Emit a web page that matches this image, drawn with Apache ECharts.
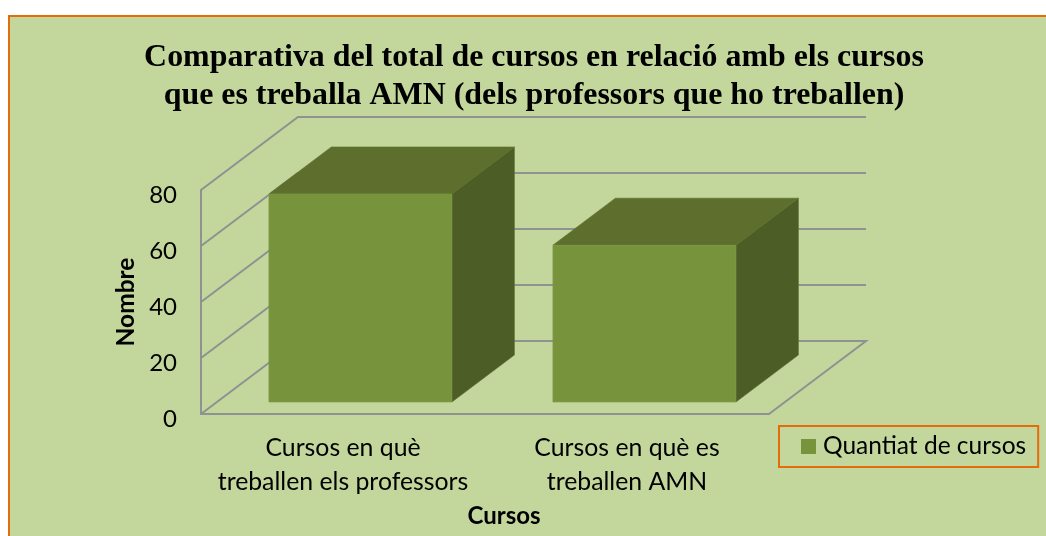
<!DOCTYPE html>
<html>
<head>
<meta charset="utf-8">
<style>html,body{margin:0;padding:0;background:#fff}#c{width:1046px;height:536px}</style>
<script src="https://cdn.jsdelivr.net/npm/echarts@6/dist/echarts.min.js"></script>
</head>
<body>
<div id="c"></div>
<script>
const categories = ['Cursos en què\ntreballen els professors', 'Cursos en què es\ntreballen AMN'];
const quantities = [74.3, 56];
const gridTicks = [0, 20, 40, 60, 80];
const seriesName = 'Quantiat de cursos';
const titleText = 'Comparativa del total de cursos en relació amb els cursos\nque es treballa AMN (dels professors que ho treballen)';

const FONT = 'Lato';
const GREY = '#8f9291';
const ORANGE = '#E46C0A';
const DEPTH_X = 97 / 284, DEPTH_Y = 73 / 284;   // wall depth relative to the category band
const BAR_W = 183 / 284, BAR_D0 = 0.164, BAR_D1 = 0.808, BAR_SHIFT = 1.5 / 284; // bar width, depth extent, nudge

function wallItem(params, api) {
  const v = api.value(0);
  const band = api.size([1, 0])[0];
  const p = api.coord([0, v]);
  const x0 = p[0] - band / 2, y = p[1];
  const dx = band * DEPTH_X, dy = band * DEPTH_Y;
  const xEnd = x0 + band * categories.length;
  const lineStyle = { stroke: GREY, lineWidth: 2, fill: null };
  const pts = [[x0, y], [x0 + dx, y - dy], [xEnd + dx, y - dy]];
  if (v === 0) pts.push([xEnd, y]);
  return { type: 'polyline', shape: { points: pts }, style: lineStyle, silent: true };
}

function barItem(params, api) {
  const idx = api.value(0), val = api.value(1);
  const band = api.size([1, 0])[0];
  const top = api.coord([idx, val]), base = api.coord([idx, 0]);
  const dx = band * DEPTH_X, dy = band * DEPTH_Y;
  const w = band * BAR_W;
  const fx = base[0] - w / 2 + dx * BAR_D0 + band * BAR_SHIFT, fy = -dy * BAR_D0;
  const ddx = dx * (BAR_D1 - BAR_D0), ddy = dy * (BAR_D1 - BAR_D0);
  const yT = top[1] + fy, yB = base[1] + fy, xR = fx + w;
  return {
    type: 'group',
    children: [
      { type: 'polygon', shape: { points: [[xR, yT], [xR + ddx, yT - ddy], [xR + ddx, yB - ddy], [xR, yB]] },
        style: { fill: '#4C5D26', stroke: '#5a6c30', lineWidth: 0.6 } },
      { type: 'polygon', shape: { points: [[fx, yT], [fx + ddx, yT - ddy], [xR + ddx, yT - ddy], [xR, yT]] },
        style: { fill: '#5D6E2D', stroke: '#5D6E2D', lineWidth: 0.6 } },
      { type: 'rect', shape: { x: fx, y: yT, width: w, height: yB - yT },
        style: { fill: '#77933C', stroke: '#7f9b45', lineWidth: 0.6 } }
    ]
  };
}

const chart = echarts.init(document.getElementById('c'), null, { renderer: 'canvas' });
chart.setOption({
  animation: false,
  backgroundColor: '#ffffff',
  graphic: [
    { type: 'rect', z: -2, silent: true, shape: { x: 8, y: 15, width: 1038, height: 521 }, style: { fill: ORANGE } },
    { type: 'rect', z: -1, silent: true, shape: { x: 10, y: 17, width: 1036, height: 519 }, style: { fill: '#C3D69B' } }
  ],
  title: {
    text: titleText,
    left: 529, top: 34, textAlign: 'center',
    textStyle: { fontFamily: 'Liberation Serif', fontWeight: 'bold', fontSize: 31.9, lineHeight: 38, color: '#000' }
  },
  grid: { left: 201, right: 277, top: 190, bottom: 122 },
  legend: {
    data: [{ name: seriesName, icon: 'rect' }],
    left: 779, top: 426,
    padding: [8, 12, 8, 22],
    borderColor: ORANGE, borderWidth: 2,
    itemWidth: 15, itemHeight: 15, itemGap: 0,
    selectedMode: false,
    textStyle: { fontFamily: FONT, fontSize: 24.5, color: '#000', padding: [0, 0, 0, 2] }
  },
  xAxis: {
    type: 'category', data: categories,
    name: 'Cursos', nameLocation: 'middle', nameGap: 90,
    nameTextStyle: { fontFamily: FONT, fontWeight: 'bold', fontSize: 24, color: '#000', padding: [0, 0, 0, 38] },
    axisLine: { show: true, lineStyle: { color: GREY, width: 2 } },
    axisTick: { show: false },
    axisLabel: { fontFamily: FONT, fontSize: 24.8, color: '#000', lineHeight: 34, margin: 17, interval: 0 }
  },
  yAxis: {
    type: 'value', min: 0, max: 80, interval: 20,
    name: 'Nombre', nameLocation: 'middle', nameGap: 58, nameRotate: 90,
    nameTextStyle: { fontFamily: FONT, fontWeight: 'bold', fontSize: 24.5, color: '#000' },
    axisLine: { show: true, lineStyle: { color: GREY, width: 2 } },
    axisTick: { show: false },
    splitLine: { show: false },
    axisLabel: { fontFamily: FONT, fontSize: 24, color: '#000', margin: 24, verticalAlign: 'top', lineHeight: 10 }
  },
  series: [
    { type: 'custom', name: 'walls', renderItem: wallItem, silent: true, z: 1,
      data: gridTicks.map(v => [v]), encode: { y: 0 }, clip: false },
    { type: 'custom', name: seriesName, renderItem: barItem, z: 3,
      itemStyle: { color: '#77933C' },
      data: quantities.map((v, i) => [i, v]), encode: { x: 0, y: 1 }, clip: false }
  ]
});
</script>
</body>
</html>
